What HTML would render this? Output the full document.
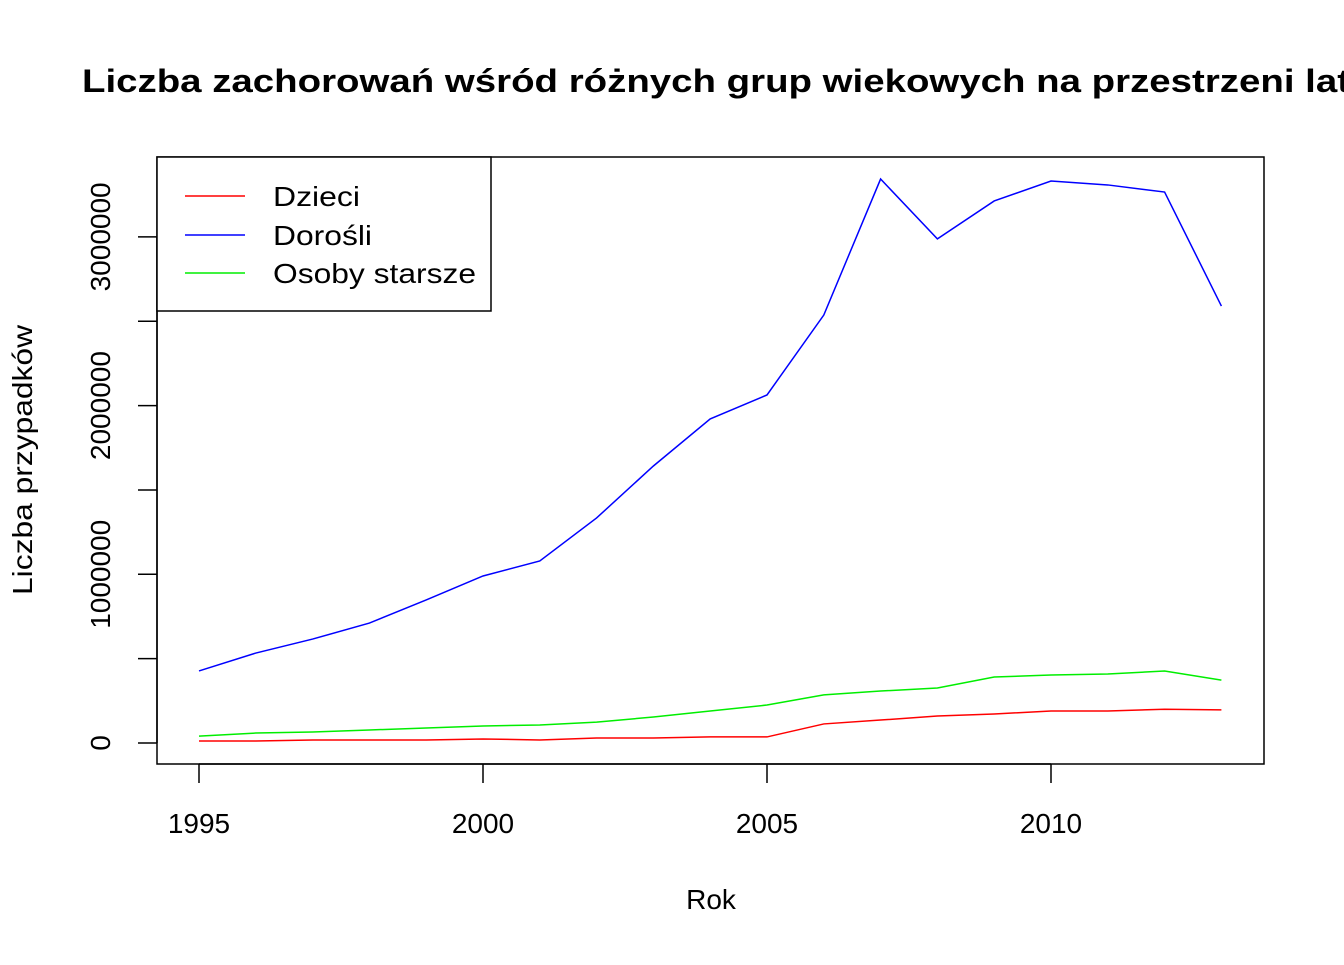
<!DOCTYPE html>
<html><head><meta charset="utf-8"><style>
body{margin:0;background:#fff;overflow:hidden}
svg text{font-family:"Liberation Sans",Arial,sans-serif}
</style></head><body>
<svg width="1344" height="960" xmlns="http://www.w3.org/2000/svg">
<text x="82" y="92" font-size="32" font-weight="bold" textLength="1268" lengthAdjust="spacingAndGlyphs">Liczba zachorowań wśród różnych grup wiekowych na przestrzeni lat</text>
<rect x="157" y="157" width="1107" height="607" fill="none" stroke="#000" stroke-width="1.5"/>
<g id="axes"></g>
<g id="series"></g>
<text x="711" y="909" font-size="28" text-anchor="middle">Rok</text>
<text transform="translate(32,460) rotate(-90)" font-size="28" text-anchor="middle" textLength="270" lengthAdjust="spacingAndGlyphs">Liczba przypadków</text>
<g>
<rect x="157" y="157" width="334" height="154" fill="#fff" stroke="#000" stroke-width="1.5"/>
<line x1="185" y1="196" x2="245" y2="196" stroke="#ff0000" stroke-width="1.5"/>
<text x="273" y="206" font-size="28" textLength="87" lengthAdjust="spacingAndGlyphs">Dzieci</text>
<line x1="185" y1="235" x2="245" y2="235" stroke="#0000ff" stroke-width="1.5"/>
<text x="273" y="245" font-size="28" textLength="99" lengthAdjust="spacingAndGlyphs">Dorośli</text>
<line x1="185" y1="273" x2="245" y2="273" stroke="#00ee00" stroke-width="1.5"/>
<text x="273" y="283" font-size="28" textLength="203" lengthAdjust="spacingAndGlyphs">Osoby starsze</text>
</g>
</svg>
<script>
const years=[1995,1996,1997,1998,1999,2000,2001,2002,2003,2004,2005,2006,2007,2008,2009,2010,2011,2012,2013];
const dzieci=[12000,12000,18000,18000,18000,24000,18000,30000,30000,36000,36000,113000,136000,160000,172000,190000,190000,200000,196000];
const dorosli=[427000,533000,616000,711000,848000,990000,1079000,1334000,1642000,1921000,2063000,2537000,3343000,2988000,3213000,3331000,3308000,3266000,2590000];
const starsze=[41000,59000,65000,77000,89000,101000,107000,124000,154000,190000,225000,285000,308000,326000,391000,403000,409000,427000,373000];
const xTicks=[1995,2000,2005,2010];
const yTicks=[0,500000,1000000,1500000,2000000,2500000,3000000];
const yLabels=[0,1000000,2000000,3000000];
const NS="http://www.w3.org/2000/svg";
const X=v=>199+(v-1995)*56.8;
const Y=v=>743-v*0.0001687;
const ax=document.getElementById('axes'),sg=document.getElementById('series');
function mk(t,a,p){const e=document.createElementNS(NS,t);for(const k in a)e.setAttribute(k,a[k]);p.appendChild(e);return e;}
mk('line',{x1:X(xTicks[0]),x2:X(xTicks[xTicks.length-1]),y1:764,y2:764,stroke:'#000','stroke-width':1.5},ax);
xTicks.forEach(t=>{
 const l=mk('line',{x1:X(t),x2:X(t),y1:764,y2:783,stroke:'#000','stroke-width':1.5},ax);
 
 
 const tx=mk('text',{x:X(t),y:833,'font-size':28,'text-anchor':'middle'},ax);tx.textContent=t;
 
 
});
mk('line',{x1:157,x2:157,y1:Y(0),y2:Y(3000000),stroke:'#000','stroke-width':1.5},ax);
yTicks.forEach(t=>{
 const l=mk('line',{x1:138,x2:157,y1:Y(t),y2:Y(t),stroke:'#000','stroke-width':1.5},ax);
 
 
});
yLabels.forEach(t=>{
 const tx=mk('text',{transform:`translate(110,${Y(t)}) rotate(-90)`,'font-size':28,'text-anchor':'middle'},ax);tx.textContent=t;
 
 
});
[[dzieci,'#ff0000','line-dzieci'],[dorosli,'#0000ff','line-dorosli'],[starsze,'#00ee00','line-osoby-starsze']].forEach(([d,c,n])=>{
 const p=mk('polyline',{points:years.map((y,i)=>X(y)+','+Y(d[i])).join(' '),fill:'none',stroke:c,'stroke-width':1.5},sg);
 
 
});
</script>
</body></html>
